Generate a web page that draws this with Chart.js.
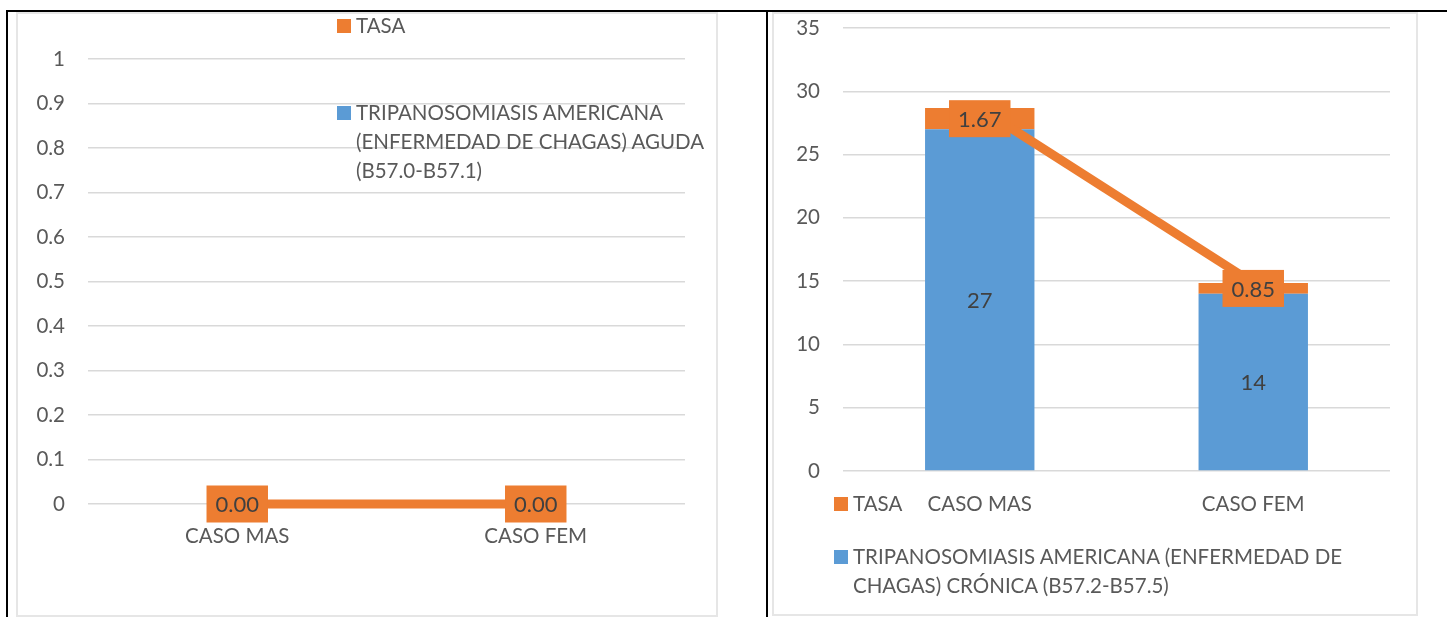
<!DOCTYPE html>
<html>
<head>
<meta charset="utf-8">
<script src="https://cdn.jsdelivr.net/npm/chart.js@4/dist/chart.umd.min.js"></script>
<style>
  html, body { margin: 0; padding: 0; background: #fff; }
  body { width: 1447px; height: 617px; position: relative; overflow: hidden; font-family: Lato, "Open Sans", sans-serif; }
  .rule { position: absolute; background: #000; }
  .frame { position: absolute; border: 2px solid #e6e6e6; box-sizing: border-box; }
  canvas { position: absolute; }
  .legend { position: absolute; color: #595959; font-size: 20.5px; }
  .legend .item { position: relative; padding-left: 19px; line-height: 29px; }
  .legend .sw { position: absolute; left: 0; top: 8px; width: 14px; height: 14px; }
</style>
</head>
<body>

<div class="rule" style="left:6px; top:10px; width:1441px; height:2px;"></div>
<div class="rule" style="left:6px; top:10px; width:2px; height:607px;"></div>
<div class="rule" style="left:766px; top:10px; width:2px; height:607px;"></div>

<div class="frame" style="left:16px; top:12px; width:702px; height:605px;"></div>
<div class="frame" style="left:772px; top:12px; width:646px; height:604px;"></div>

<canvas id="leftChart" width="700" height="603" style="left:17px; top:12px;"></canvas>
<canvas id="rightChart" width="644" height="603" style="left:773px; top:12px;"></canvas>

<div class="legend" id="leftLegend" style="left:337px; top:11px; width:390px;"></div>
<div class="legend" id="rightLegend" style="left:834px; top:489px; width:560px;"></div>

<script>
/* ==========================================
   DATA
========================================== */

const categories = ["CASO MAS", "CASO FEM"];

// left chart: acute cases (all zero)
const agudaName = "TRIPANOSOMIASIS AMERICANA (ENFERMEDAD DE CHAGAS) AGUDA (B57.0-B57.1)";
const agudaCases = [0, 0];
const agudaTasa = [0, 0];

// right chart: chronic cases
const cronicaName = "TRIPANOSOMIASIS AMERICANA (ENFERMEDAD DE CHAGAS) CRÓNICA (B57.2-B57.5)";
const cronicaCases = [27, 14];
const cronicaTasa = [1.67, 0.85];

const tasaName = "TASA";

const leftTicks = { min: 0, max: 1, step: 0.1 };
const rightTicks = { min: 0, max: 35, step: 5 };

/* ==========================================
   STYLE
========================================== */

const ORANGE = "#ED7D31";
const BLUE = "#5B9BD5";
const TEXT = "#595959";
const LABEL = "#404040";
const GRID = "#d9d9d9";
const FONT = "Lato";

/* ==========================================
   VALUE LABELS PLUGIN
========================================== */

const valueLabels = {
  id: "valueLabels",
  afterDatasetsDraw(chart) {
    const ctx = chart.ctx;
    ctx.save();
    ctx.font = "22px " + FONT;
    ctx.textAlign = "center";
    ctx.textBaseline = "middle";

    chart.data.datasets.forEach((ds, i) => {
      if (!ds.valueLabel) return;
      const meta = chart.getDatasetMeta(i);
      meta.data.forEach((el, j) => {
        const p = el.getCenterPoint();
        const text = ds.valueLabel.format(ds.data[j]);
        if (ds.valueLabel.box) {
          const w = ctx.measureText(text).width + 18;
          const h = 37;
          ctx.fillStyle = ds.valueLabel.box;
          ctx.fillRect(p.x - w / 2, p.y - h / 2, w, h);
        }
        ctx.fillStyle = LABEL;
        ctx.fillText(text, p.x, p.y + 1);
      });
    });
    ctx.restore();
  }
};

/* ==========================================
   SHARED SCALE OPTIONS
========================================== */

function yScale(t, width) {
  return {
    min: t.min,
    max: t.max,
    border: { display: false },
    grid: { color: GRID, lineWidth: 1.5, drawTicks: false },
    ticks: {
      stepSize: t.step,
      color: TEXT,
      font: { family: FONT, size: 20.5 },
      padding: 23,
      callback: v => String(Number(v.toFixed(2)))
    },
    afterFit(scale) {
      scale.width = width;
      // tick padding is otherwise added to the top/bottom margins
      scale.paddingTop = 12;
      scale.paddingBottom = 12;
    }
  };
}

function xScale(height, pad) {
  return {
    offset: true,
    border: { display: false },
    grid: { display: false, drawTicks: false },
    ticks: { color: TEXT, font: { family: FONT, size: 20.5 }, padding: pad, maxRotation: 0 },
    afterFit(scale) { scale.height = height; }
  };
}

/* ==========================================
   LEFT CHART - AGUDA
========================================== */

new Chart(document.getElementById("leftChart"), {
  type: "line",
  data: {
    labels: categories,
    datasets: [
      {
        label: tasaName,
        data: agudaTasa,
        borderColor: ORANGE,
        borderWidth: 9,
        pointRadius: 0,
        clip: false,
        order: 0,
        valueLabel: { box: ORANGE, format: v => v.toFixed(2) }
      },
      {
        type: "bar",
        label: agudaName,
        data: agudaCases,
        backgroundColor: BLUE,
        order: 1
      }
    ]
  },
  options: {
    responsive: false,
    animation: false,
    layout: { padding: { left: 0, top: 47, right: 32, bottom: 0 } },
    plugins: { legend: { display: false }, tooltip: { enabled: false } },
    scales: {
      x: xScale(111, 20),
      y: yScale(leftTicks, 71)
    }
  },
  plugins: [valueLabels]
});

/* ==========================================
   RIGHT CHART - CRONICA
========================================== */

new Chart(document.getElementById("rightChart"), {
  type: "bar",
  data: {
    labels: categories,
    datasets: [
      {
        type: "line",
        label: tasaName + " (línea)",
        data: cronicaCases.map((v, i) => v + cronicaTasa[i]),
        stack: "line",
        borderColor: ORANGE,
        borderWidth: 9,
        pointRadius: 0,
        clip: false,
        order: 0
      },
      {
        label: cronicaName,
        data: cronicaCases,
        stack: "bars",
        backgroundColor: BLUE,
        barPercentage: 0.4,
        categoryPercentage: 1,
        order: 1,
        valueLabel: { format: v => String(v) }
      },
      {
        label: tasaName,
        data: cronicaTasa,
        stack: "bars",
        backgroundColor: ORANGE,
        barPercentage: 0.4,
        categoryPercentage: 1,
        order: 1,
        valueLabel: { box: ORANGE, format: v => v.toFixed(2) }
      }
    ]
  },
  options: {
    responsive: false,
    animation: false,
    layout: { padding: { left: 0, top: 16, right: 27, bottom: 0 } },
    plugins: { legend: { display: false }, tooltip: { enabled: false } },
    scales: {
      x: Object.assign(xScale(144, 21), { stacked: true }),
      y: Object.assign(yScale(rightTicks, 70), { stacked: true })
    }
  },
  plugins: [valueLabels]
});

/* ==========================================
   HTML LEGENDS
========================================== */

function buildLegend(el, items, gap) {
  items.forEach((it, k) => {
    const row = document.createElement("div");
    row.className = "item";
    if (k > 0) row.style.marginTop = gap + "px";
    const sw = document.createElement("span");
    sw.className = "sw";
    sw.style.background = it.color;
    const txt = document.createElement("span");
    txt.textContent = it.name;
    row.appendChild(sw);
    row.appendChild(txt);
    el.appendChild(row);
  });
}

buildLegend(document.getElementById("leftLegend"), [
  { name: tasaName, color: ORANGE },
  { name: agudaName, color: BLUE }
], 57.5);

buildLegend(document.getElementById("rightLegend"), [
  { name: tasaName, color: ORANGE },
  { name: cronicaName, color: BLUE }
], 23.5);
</script>
</body>
</html>
